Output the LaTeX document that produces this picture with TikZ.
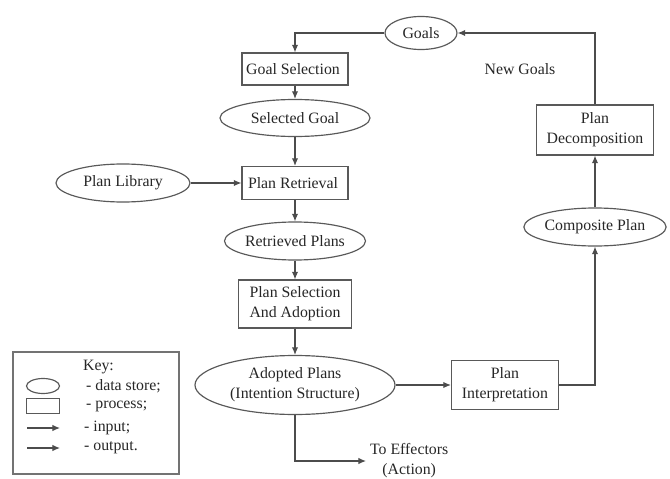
\documentclass[tikz,border=0pt]{standalone}
\usepackage{fontspec}
\setmainfont{Liberation Serif}
\usetikzlibrary{shapes.geometric,arrows.meta}
\begin{document}
\begin{tikzpicture}[ x=0.03cm, y=-0.03cm,
  every node/.style={ text=black!85, font=\fontsize{13.5}{17}\selectfont },
  store/.style={ ellipse, draw=black!65, line width=1pt, inner sep=0pt },
  process/.style={ rectangle, draw=black!65, line width=1pt, inner sep=0pt, align=center },
  flow/.style={ draw=black!70, line width=1pt, -{Latex[length=6.5pt,width=5.5pt]} } ]
  \useasboundingbox (0,0) rectangle (670,479);

  \node [ store, minimum width=2.16cm, minimum height=0.99cm ] (goals) at (421,33) { Goals };
  \node [ process, minimum width=3.18cm, minimum height=0.96cm ] (goalsel) at (295,69) { Goal Selection };
  \node [ store, minimum width=4.5cm, minimum height=1.11cm ] (selgoal) at (295,118) { Selected Goal };
  \node [ process, minimum width=3.18cm, minimum height=0.99cm ] (retrieval) at (295,183) { Plan Retrieval };
  \node [ store, minimum width=4.02cm, minimum height=1.14cm ] (library) at (123,183) { Plan Library };
  \node [ store, minimum width=4.2cm, minimum height=1.14cm ] (retrieved) at (295,241) { Retrieved Plans };
  \node [ process, minimum width=3.39cm, minimum height=1.44cm ] (selection) at (295,304) { Plan Selection\\And Adoption };
  \node [ store, minimum width=6cm, minimum height=1.77cm, align=center ] (adopted) at (295,385) { Adopted Plans\\(Intention Structure) };
  \node [ process, minimum width=3.21cm, minimum height=1.47cm ] (interp) at (505,385) { Plan\\Interpretation };
  \node [ store, minimum width=3.96cm, minimum height=1.14cm ] (composite) at (595,227) { Composite Plan };
  \node [ process, minimum width=3.51cm, minimum height=1.5cm ] (decomp) at (595,130) { Plan\\Decomposition };
  \node (newgoals) at (520,69) { New Goals };
  \node [ anchor=west, align=center ] (effectors) at (366,461) { To Effectors\\(Action) };

  \draw [ flow ] (goals.west) -| (goalsel.north);
  \draw [ flow ] (goalsel.south) -- (selgoal.north);
  \draw [ flow ] (selgoal.south) -- (retrieval.north);
  \draw [ flow ] (library.east) -- (retrieval.west);
  \draw [ flow ] (retrieval.south) -- (retrieved.north);
  \draw [ flow ] (retrieved.south) -- (selection.north);
  \draw [ flow ] (selection.south) -- (adopted.north);
  \draw [ flow ] (adopted.east) -- (interp.west);
  \draw [ flow ] (adopted.south) |- (effectors.west);
  \draw [ flow ] (interp.east) -| (composite.south);
  \draw [ flow ] (composite.north) -- (decomp.south);
  \draw [ flow ] (decomp.north) |- (goals.east);

  % key
  \draw [ draw=black!55, line width=1pt ] (13,352) rectangle (179,474);
  \node [ anchor=west ] (keytitle) at (79,367) { Key: };
  \node [ store, minimum width=0.99cm, minimum height=0.45cm ] (keystore) at (43,386) {};
  \node [ process, minimum width=0.99cm, minimum height=0.45cm ] (keyprocess) at (43,406) {};
  \coordinate (inA) at (27,428);
  \coordinate (inB) at (60,428);
  \coordinate (outA) at (27,448);
  \coordinate (outB) at (60,448);
  \draw [ flow ] (inA) -- (inB);
  \draw [ flow ] (outA) -- (outB);
  \node [ anchor=west ] (keystoretext) at (82,386) { - data store; };
  \node [ anchor=west ] (keyprocesstext) at (82,406) { - process; };
  \node [ anchor=west ] (keyinput) at (80,428) { - input; };
  \node [ anchor=west ] (keyoutput) at (80,448) { - output. };
\end{tikzpicture}
\end{document}
